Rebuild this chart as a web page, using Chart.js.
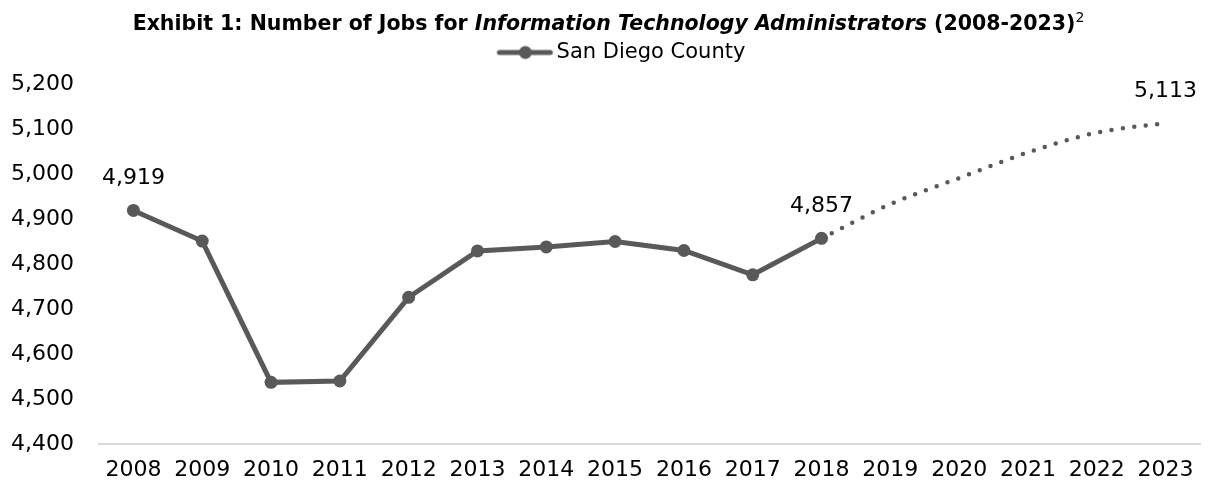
<!DOCTYPE html>
<html>
<head>
<meta charset="utf-8">
<script src="https://cdn.jsdelivr.net/npm/chart.js@4"></script>
<style>
  body { margin: 0; background: #fff; }
  #wrap { position: relative; width: 1217px; height: 485px; }
  #title {
    position: absolute; top: 9px; left: 0; width: 1217px; text-align: center;
    font-family: "DejaVu Sans", sans-serif; font-weight: bold; font-size: 20.5px; color: #000;
  }
  #title sup { font-weight: normal; font-size: 14px; }
</style>
</head>
<body>
<div id="wrap">
  <div id="title">Exhibit 1: Number of Jobs for <i>Information Technology Administrators</i> (2008-2023)<sup>2</sup></div>
  <canvas id="chart" width="1217" height="485"></canvas>
</div>
<script>
const years = ["2008", "2009", "2010", "2011", "2012", "2013", "2014", "2015",
  "2016", "2017", "2018", "2019", "2020", "2021", "2022", "2023"];
const actualJobs = [4919, 4851, 4537, 4540, 4726, 4829, 4838, 4850, 4830, 4776, 4857,
  null, null, null, null, null];
const projectedJobs = [null, null, null, null, null, null, null, null, null, null, 4857,
  4933, 4991, 5048, 5092, 5113];
const labelYears = ["2008", "2018", "2023"];
const yTicks = [4400, 4500, 4600, 4700, 4800, 4900, 5000, 5100, 5200];

const lineColor = "#595959";
const fontFamily = "'DejaVu Sans', sans-serif";

// legend icon: line with a dot, blank space on the left to nudge it right
const legendIcon = document.createElement("canvas");
legendIcon.width = 100;
legendIcon.height = 16;
const ic = legendIcon.getContext("2d");
ic.strokeStyle = lineColor;
ic.lineWidth = 5;
ic.lineCap = "round";
ic.beginPath();
ic.moveTo(43, 8);
ic.lineTo(94, 8);
ic.stroke();
ic.fillStyle = lineColor;
ic.beginPath();
ic.arc(69, 8, 6.5, 0, Math.PI * 2);
ic.fill();

const fmt = (v) => v.toLocaleString("en-US");

const valueLabels = {
  id: "valueLabels",
  afterDatasetsDraw(chart) {
    const ctx = chart.ctx;
    const xs = chart.scales.x;
    const ys = chart.scales.y;
    ctx.save();
    ctx.font = "22px " + fontFamily;
    ctx.fillStyle = "#000";
    ctx.textAlign = "center";
    ctx.textBaseline = "middle";
    labelYears.forEach((yr) => {
      const i = years.indexOf(yr);
      const v = actualJobs[i] != null ? actualJobs[i] : projectedJobs[i];
      ctx.fillText(fmt(v), xs.getPixelForValue(i), ys.getPixelForValue(v) - 32);
    });
    ctx.restore();
  },
};

// extra room under the legend
const legendMargin = {
  id: "legendMargin",
  beforeInit(chart) {
    const fit = chart.legend.fit;
    chart.legend.fit = function () {
      fit.bind(chart.legend)();
      this.height += 11;
    };
  },
};

new Chart(document.getElementById("chart").getContext("2d"), {
  type: "line",
  data: {
    labels: years,
    datasets: [
      {
        label: "San Diego County",
        data: actualJobs,
        borderColor: lineColor,
        backgroundColor: lineColor,
        borderWidth: 5,
        pointRadius: 6.5,
        pointHoverRadius: 6.5,
        pointBackgroundColor: lineColor,
        pointBorderWidth: 0,
        tension: 0,
      },
      {
        label: "Projection",
        data: projectedJobs,
        borderColor: lineColor,
        borderWidth: 4.5,
        borderDash: [0, 11.5],
        borderCapStyle: "round",
        pointRadius: 0,
        cubicInterpolationMode: "monotone",
      },
    ],
  },
  plugins: [valueLabels, legendMargin],
  options: {
    responsive: false,
    animation: false,
    layout: { padding: { top: 26, left: 12, right: 17, bottom: 0 } },
    plugins: {
      legend: {
        position: "top",
        labels: {
          font: { size: 21, family: fontFamily },
          color: "#000",
          padding: 16,
          usePointStyle: true,
          pointStyleWidth: 79.5,
          generateLabels: (chart) => [
            {
              text: "San Diego County",
              pointStyle: legendIcon,
              datasetIndex: 0,
              fontColor: "#000",
              lineWidth: 0,
            },
          ],
        },
      },
      tooltip: { enabled: false },
    },
    scales: {
      x: {
        offset: true,
        grid: { display: false, drawTicks: false },
        border: { display: true, color: "#d9d9d9", width: 2 },
        ticks: { color: "#000", font: { size: 22, family: fontFamily }, padding: 13, maxRotation: 0, autoSkip: false },
        afterFit: (axis) => {
          axis.height = 41;
        },
      },
      y: {
        min: yTicks[0],
        max: yTicks[yTicks.length - 1],
        afterBuildTicks: (axis) => {
          axis.ticks = yTicks.map((v) => ({ value: v }));
        },
        afterFit: (axis) => {
          axis.width = 87;
        },
        grid: { display: false, drawTicks: false },
        border: { display: false },
        ticks: {
          color: "#000",
          font: { size: 22, family: fontFamily },
          padding: 25,
          callback: (v) => fmt(v),
        },
      },
    },
  },
});
</script>
</body>
</html>
